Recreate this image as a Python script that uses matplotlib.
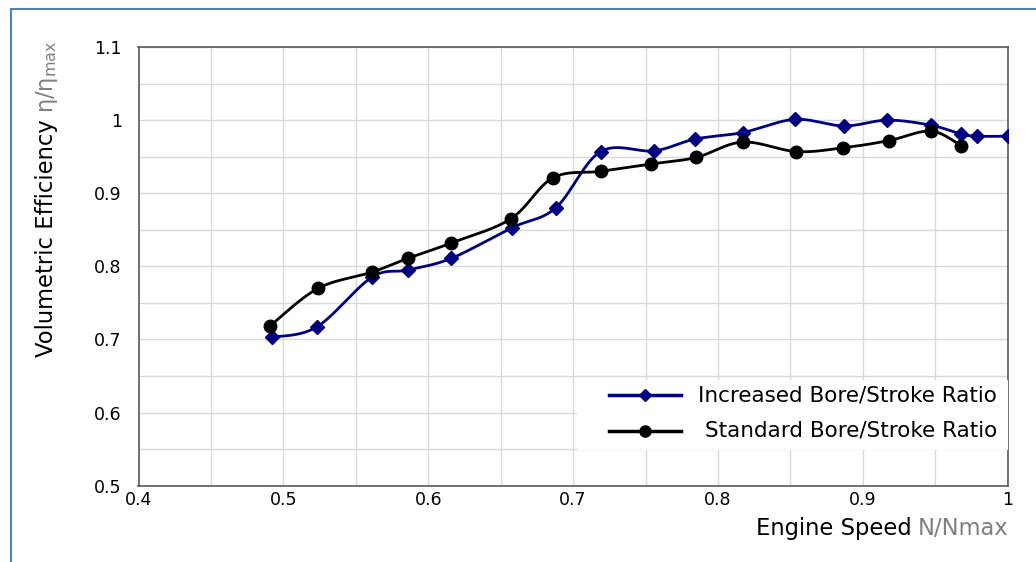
import numpy as np
import matplotlib
matplotlib.use('Agg')
import matplotlib.pyplot as plt
from matplotlib.lines import Line2D
from matplotlib.patches import Rectangle

# Dane
speed_inc = [0.492, 0.523, 0.561, 0.586, 0.616, 0.658, 0.688, 0.719, 0.756, 0.784,
             0.817, 0.853, 0.887, 0.917, 0.947, 0.968, 0.979, 1.0]
eff_inc = [0.703, 0.717, 0.785, 0.795, 0.811, 0.853, 0.880, 0.957, 0.958, 0.974,
           0.983, 1.001, 0.992, 1.0, 0.993, 0.981, 0.978, 0.978]

speed_std = [0.491, 0.524, 0.561, 0.586, 0.616, 0.657, 0.686, 0.719, 0.754, 0.785,
             0.817, 0.854, 0.886, 0.918, 0.947, 0.968]
eff_std = [0.719, 0.770, 0.792, 0.811, 0.832, 0.865, 0.921, 0.930, 0.940, 0.949,
           0.970, 0.957, 0.962, 0.972, 0.985, 0.965]

label_inc = 'Increased Bore/Stroke Ratio'
label_std = 'Standard Bore/Stroke Ratio'

BLUE = '#000080'
GRAY = '#7f7f7f'


def smooth(x, y, n=24):
    """Wygładzanie jak w Excelu (Catmull-Rom -> Bezier)"""
    x = np.asarray(x, float)
    y = np.asarray(y, float)
    px = np.concatenate([[x[0]], x, [x[-1]]])
    py = np.concatenate([[y[0]], y, [y[-1]]])
    t = np.linspace(0, 1, n)[:, None]
    xs, ys = [], []
    for i in range(1, len(px) - 2):
        p0 = np.array([px[i], py[i]])
        p3 = np.array([px[i + 1], py[i + 1]])
        c1 = p0 + (np.array([px[i + 1], py[i + 1]]) - np.array([px[i - 1], py[i - 1]])) / 6
        c2 = p3 - (np.array([px[i + 2], py[i + 2]]) - np.array([px[i], py[i]])) / 6
        b = ((1 - t) ** 3) * p0 + 3 * ((1 - t) ** 2) * t * c1 + 3 * (1 - t) * t ** 2 * c2 + t ** 3 * p3
        xs.append(b[:, 0])
        ys.append(b[:, 1])
    return np.concatenate(xs), np.concatenate(ys)


fig = plt.figure(figsize=(10.36, 5.62), dpi=100)
ax = fig.add_axes([138.5 / 1036, 1 - 485.7 / 562, 869.2 / 1036, 438.7 / 562])

ax.set_xlim(0.4, 1.0)
ax.set_ylim(0.5, 1.1)
ax.set_xticks(np.arange(0.4, 1.001, 0.1))
ax.set_xticklabels(['0.4', '0.5', '0.6', '0.7', '0.8', '0.9', '1'])
ax.set_yticks(np.arange(0.5, 1.101, 0.1))
ax.set_yticklabels(['0.5', '0.6', '0.7', '0.8', '0.9', '1', '1.1'])
ax.set_xticks(np.arange(0.4, 1.001, 0.05), minor=True)
ax.set_yticks(np.arange(0.5, 1.101, 0.05), minor=True)
ax.grid(True, which='both', color='#d9d9d9', linewidth=1.0)
ax.set_axisbelow(True)
ax.tick_params(which='both', length=0, labelsize=12.5)
ax.tick_params(axis='x', pad=4)
ax.tick_params(axis='y', pad=12)
for s in ax.spines.values():
    s.set_color('#595959')
    s.set_linewidth(1.2)

# Krzywe
sx, sy = smooth(speed_inc, eff_inc)
ax.plot(sx, sy, color=BLUE, linewidth=2, zorder=3)
ax.plot(speed_inc, eff_inc, linestyle='none', marker='D', markersize=7, color=BLUE, zorder=4)

sx, sy = smooth(speed_std, eff_std)
ax.plot(sx, sy, color='black', linewidth=2, zorder=3)
ax.plot(speed_std, eff_std, linestyle='none', marker='o', markersize=9, color='black', zorder=4)

# Legenda (ręcznie, tekst wyrównany do prawej)
ax.add_patch(Rectangle((0.5045, 0.081), 0.4955, 0.16, transform=ax.transAxes,
                       facecolor='white', edgecolor='none', zorder=5))
for yy, col, mk, ms, lab in [(0.2067, BLUE, 'D', 6, label_inc),
                             (0.1247, 'black', 'o', 8, label_std)]:
    ax.add_line(Line2D([0.541, 0.624], [yy, yy], transform=ax.transAxes, color=col,
                       linewidth=2.5, zorder=6))
    ax.add_line(Line2D([0.5825], [yy], transform=ax.transAxes, color=col, marker=mk,
                       markersize=ms, zorder=6))
    ax.text(0.9877, yy, lab, transform=ax.transAxes, ha='right', va='center',
            fontsize=15.5, zorder=6)

# Opisy osi (dwukolorowe)
W, H = 1036, 562
fig.canvas.draw()
r = fig.canvas.get_renderer()

t_gray = fig.text(1008 / W, 1 - 535 / H, 'N/Nmax', color=GRAY, fontsize=16.3,
                  ha='right', va='baseline')
bb = t_gray.get_window_extent(r)
fig.text((bb.x0 - 6) / W, 1 - 535 / H, 'Engine Speed', color='black', fontsize=16.3,
         ha='right', va='baseline')

t_blk = fig.text(47 / W, 1 - 357 / H, 'Volumetric Efficiency', color='black',
                 fontsize=16.3, rotation=90, ha='center', va='bottom')
bb = t_blk.get_window_extent(r)
fig.text(47 / W, (bb.y1 + 6) / H, 'η/η$_\\mathregular{max}$', color=GRAY,
         fontsize=16.3, rotation=90, ha='center', va='bottom')

# Ramka obrazka
fig.add_artist(Rectangle((10.5 / W, -0.1), 1.2, 1 - 8.5 / H + 0.1, transform=fig.transFigure,
                         fill=False, edgecolor='#4f81bd', linewidth=1.5, clip_on=False))

fig.savefig('out.png', dpi=100)
